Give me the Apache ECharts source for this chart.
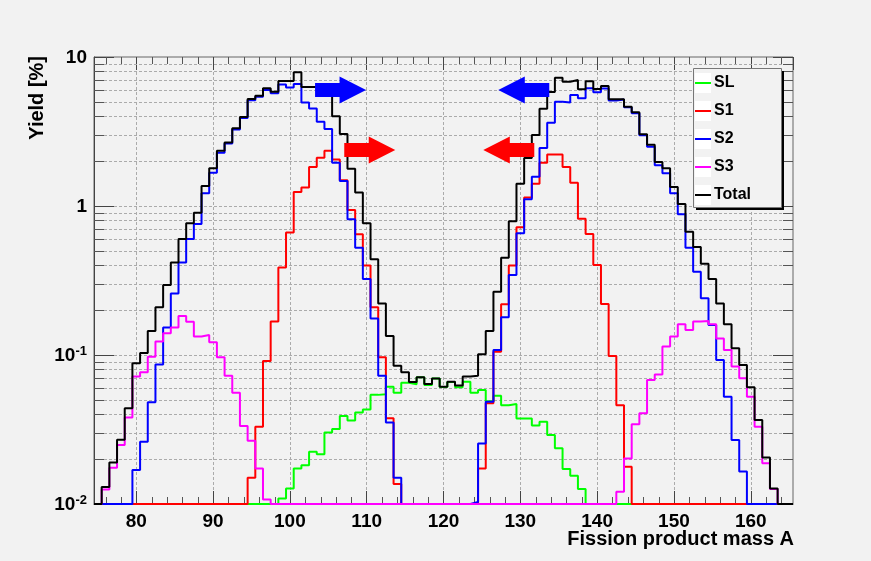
<!DOCTYPE html>
<html>
<head>
<meta charset="utf-8">
<title>Fission product yields</title>
<script src="https://cdn.jsdelivr.net/npm/echarts@6/dist/echarts.min.js"></script>
<style>
  html, body { margin: 0; padding: 0; background: #f2f2f2; }
  #chart { width: 871px; height: 561px; }
</style>
</head>
<body>
<div id="chart"></div>
<script>
// histogram bins: width 1, centred on mass number A = 75 ... 165
const massA = [];
for (let a = 75; a <= 165; a++) massA.push(a);

// yields in %, one value per bin (rows of ten: A=75, 85, 95, ... 165)
const yieldSL = [
  0, 0, 0, 0, 0, 0, 0, 0, 0, 0,
  0, 0, 0, 0, 0, 0, 0, 0, 0, 0,
  0, 0, 0, 0, 0.0109, 0.0127, 0.0173, 0.0182, 0.0224, 0.0216,
  0.0302, 0.0319, 0.039, 0.0363, 0.0411, 0.043, 0.054, 0.0546, 0.0613, 0.0558,
  0.0651, 0.0637, 0.0708, 0.063, 0.0696, 0.061, 0.066, 0.0607, 0.0662, 0.0558,
  0.0582, 0.049, 0.0533, 0.046, 0.0469, 0.0375, 0.0375, 0.0336, 0.0357, 0.029,
  0.0237, 0.0172, 0.0155, 0.0126, 0, 0, 0, 0, 0, 0,
  0, 0, 0, 0, 0, 0, 0, 0, 0, 0,
  0, 0, 0, 0, 0, 0, 0, 0, 0, 0,
  0
];
const yieldS1 = [
  0, 0, 0, 0, 0, 0, 0, 0, 0, 0,
  0, 0, 0, 0, 0, 0, 0, 0, 0, 0,
  0.015, 0.033, 0.091, 0.168, 0.386, 0.665, 1.24, 1.33, 1.83, 2.11,
  2.35, 2.05, 1.49, 0.94, 0.646, 0.398, 0.209, 0.0965, 0.0376, 0.0136,
  0, 0, 0, 0, 0, 0, 0, 0, 0, 0,
  0.0173, 0.0474, 0.105, 0.219, 0.398, 0.72, 1.14, 1.41, 1.95, 2.22,
  2.22, 1.83, 1.43, 0.82, 0.65, 0.402, 0.22, 0.0985, 0.046, 0.0178,
  0, 0, 0, 0, 0, 0, 0, 0, 0, 0,
  0, 0, 0, 0, 0, 0, 0, 0, 0, 0,
  0
];
const yieldS2 = [
  0, 0, 0, 0, 0, 0.0169, 0.0262, 0.0481, 0.0865, 0.153,
  0.259, 0.417, 0.60, 0.757, 1.22, 1.67, 2.28, 2.63, 3.26, 3.9,
  5.12, 5.4, 6.0, 5.7, 6.55, 6.23, 6.6, 4.95, 4.52, 3.68,
  3.29, 1.95, 1.47, 0.814, 0.525, 0.324, 0.176, 0.0727, 0.0353, 0.015,
  0, 0, 0, 0, 0, 0, 0, 0, 0, 0.0103,
  0.0255, 0.0486, 0.108, 0.179, 0.344, 0.656, 1.11, 1.57, 2.45, 3.62,
  5.01, 4.95, 5.56, 5.28, 6.16, 5.8, 6.15, 5.1, 5.18, 4.6,
  4.2, 2.98, 2.5, 1.88, 1.66, 1.22, 0.88, 0.525, 0.362, 0.24,
  0.159, 0.0925, 0.0525, 0.0269, 0.0165, 0, 0, 0, 0, 0,
  0
];
const yieldS3 = [
  0, 0.0125, 0.0175, 0.0249, 0.038, 0.0716, 0.0765, 0.0975, 0.123, 0.14,
  0.153, 0.183, 0.167, 0.133, 0.136, 0.122, 0.0965, 0.0727, 0.0558, 0.0334,
  0.0266, 0.0173, 0.0107, 0, 0, 0, 0, 0, 0, 0,
  0, 0, 0, 0, 0, 0, 0, 0, 0, 0,
  0, 0, 0, 0, 0, 0, 0, 0, 0, 0,
  0, 0, 0, 0, 0, 0, 0, 0, 0, 0,
  0, 0, 0, 0, 0, 0, 0, 0, 0.0121, 0.0202,
  0.0343, 0.0406, 0.068, 0.0741, 0.114, 0.133, 0.161, 0.147, 0.168, 0.169,
  0.161, 0.129, 0.108, 0.0836, 0.0697, 0.0525, 0.033, 0.0188, 0.0126, 0,
  0
];
const yieldTotal = [
  0, 0.013, 0.019, 0.027, 0.044, 0.088, 0.103, 0.145, 0.209, 0.295,
  0.417, 0.60, 0.765, 0.90, 1.36, 1.79, 2.35, 2.67, 3.32, 3.96,
  5.23, 5.5, 6.16, 5.85, 6.9, 6.9, 7.9, 6.3, 6.3, 5.9,
  5.7, 4.0, 3.04, 1.78, 1.23, 0.765, 0.44, 0.222, 0.134, 0.0848,
  0.0766, 0.066, 0.0708, 0.0638, 0.0696, 0.0612, 0.0662, 0.0623, 0.0716, 0.0725,
  0.101, 0.145, 0.266, 0.45, 0.79, 1.41, 2.1, 3.0, 4.5, 5.82,
  7.27, 6.83, 7.0, 6.08, 6.87, 6.1, 6.38, 5.2, 5.2, 4.64,
  4.25, 3.03, 2.58, 1.97, 1.79, 1.34, 1.03, 0.673, 0.53, 0.41,
  0.324, 0.222, 0.161, 0.111, 0.0857, 0.0607, 0.0366, 0.0205, 0.0127, 0,
  0
];

const seriesNames = ['SL', 'S1', 'S2', 'S3', 'Total'];

// minor tick positions (ROOT style frame)
const xTicksMinor = [76, 78, 82, 84, 86, 88, 92, 94, 96, 98, 102, 104, 106, 108,
  112, 114, 116, 118, 122, 124, 126, 128, 132, 134, 136, 138, 142, 144, 146, 148,
  152, 154, 156, 158, 162, 164];
const yTicksMinor = [0.02, 0.03, 0.04, 0.05, 0.06, 0.07, 0.08, 0.09,
  0.2, 0.3, 0.4, 0.5, 0.6, 0.7, 0.8, 0.9,
  2, 3, 4, 5, 6, 7, 8, 9];

// arrow annotations: centre (A, yield), direction, colour
const arrows = [
  { A: 106.6, y: 6.0, dir: 1, color: '#0000ff' },
  { A: 110.4, y: 2.38, dir: 1, color: '#ff0000' },
  { A: 130.45, y: 6.0, dir: -1, color: '#0000ff' },
  { A: 128.5, y: 2.38, dir: -1, color: '#ff0000' },
];

const FONT = '"Liberation Sans", Arial, Helvetica, sans-serif';
const xMin = 74.5, xMax = 165.5, yMin = 0.01, yMax = 10;
const ARROW_R = 'path://M0,6.5L24,6.5L24,0L50,13.5L24,27L24,20.5L0,20.5Z';
const ARROW_L = 'path://M50,6.5L26,6.5L26,0L0,13.5L26,27L26,20.5L50,20.5Z';

// legend box layout (ROOT TLegend look: box, hard shadow, white marker cells)
const LEG = { left: 693, top: 68, width: 88, height: 139, padTop: 7, font: 16, gap: 12 };

// bin left edges + closing right edge, drawn with step 'end'
const toSteps = (values) => {
  const pts = values.map((v, i) => [massA[i] - 0.5, Math.max(v, yMin)]);
  pts.push([massA[massA.length - 1] + 0.5, Math.max(values[values.length - 1], yMin)]);
  return pts;
};

const histo = (name, values, color) => ({
  name,
  type: 'line',
  step: 'end',
  data: toSteps(values),
  symbol: 'none',
  z: 2,
  color,
  lineStyle: { color, width: 2 },
  emphasis: { disabled: true },
});

const gridLine = { stroke: '#ababab', lineWidth: 1, lineDash: [3, 2] };
const tickLine = { stroke: '#555', lineWidth: 1 };

const chart = echarts.init(document.getElementById('chart'), null, { renderer: 'canvas' });

const totalSeries = histo('Total', yieldTotal, '#000000');
totalSeries.markPoint = {
  silent: true,
  label: { show: false },
  data: arrows.map((a) => ({
    coord: [a.A, a.y],
    symbol: a.dir > 0 ? ARROW_R : ARROW_L,
    symbolSize: [51, 27],
    itemStyle: { color: a.color },
  })),
};

const legendCells = seriesNames.map((n, i) => ({
  type: 'rect', silent: true, z: 3,
  shape: { x: LEG.left + 2, y: LEG.top + LEG.padTop + i * (LEG.font + LEG.gap) + LEG.font / 2 - 10, width: 16, height: 20 },
  style: { fill: '#ffffff' },
}));

const option = {
  animation: false,
  backgroundColor: '#f2f2f2',
  textStyle: { fontFamily: FONT },
  grid: {
    left: 94, right: 78, top: 57, bottom: 57,
    show: true, backgroundColor: '#f2f2f2', borderColor: '#666', borderWidth: 1,
    containLabel: false, outerBoundsMode: 'none',
  },
  legend: {
    data: seriesNames,
    orient: 'vertical',
    left: LEG.left, top: LEG.top,
    padding: [LEG.padTop, 20, 4, 2],
    itemGap: LEG.gap, itemWidth: 16, itemHeight: 2,
    icon: 'rect',
    z: 5,
    backgroundColor: 'transparent',
    borderWidth: 0,
    selectedMode: false,
    textStyle: { fontSize: LEG.font, fontWeight: 'bold', color: '#000', fontFamily: FONT, padding: [0, 0, 0, -2] },
  },
  xAxis: [
    {
      type: 'value', min: xMin, max: xMax, minInterval: 10, maxInterval: 10,
      axisLine: { onZero: false, lineStyle: { color: '#444', width: 1 } },
      axisTick: { inside: true, length: 13, lineStyle: { color: '#444' } },
      axisLabel: {
        margin: 8, color: '#000', fontSize: 19, fontWeight: 'bold', fontFamily: FONT,
        showMinLabel: false, showMaxLabel: false,
        formatter: (v) => (Math.abs(v % 10) < 1e-6 ? String(Math.round(v)) : ''),
      },
      splitLine: { show: true, lineStyle: { color: '#ababab', type: [3, 2] } },
    },
    {
      type: 'value', position: 'top', min: xMin, max: xMax, minInterval: 10, maxInterval: 10,
      axisLine: { show: false },
      axisTick: { inside: true, length: 13, lineStyle: { color: '#444' } },
      axisLabel: { show: false },
      splitLine: { show: false },
    },
  ],
  yAxis: [
    {
      type: 'log', logBase: 10, min: yMin, max: yMax,
      axisLine: { show: true, lineStyle: { color: '#444', width: 1 } },
      axisTick: { show: true, inside: true, length: 20, lineStyle: { color: '#444' } },
      axisLabel: {
        margin: 7, color: '#000',
        formatter: (v) => {
          const p = Math.round(Math.log10(v));
          if (p === 0) return '{b|1}';
          if (p === 1) return '{b|10}';
          return '{b|10}{s|' + p + '}';
        },
        rich: {
          b: { fontSize: 19, fontWeight: 'bold', fontFamily: FONT, color: '#000', verticalAlign: 'bottom', lineHeight: 20 },
          s: { fontSize: 13, fontWeight: 'bold', fontFamily: FONT, color: '#000', verticalAlign: 'top', lineHeight: 13, padding: [0, 0, 9, 0] },
        },
      },
      splitLine: { show: true, lineStyle: { color: '#ababab', type: [3, 2] } },
    },
    {
      type: 'log', logBase: 10, min: yMin, max: yMax, position: 'right',
      axisLine: { show: false },
      axisTick: { show: true, inside: true, length: 20, lineStyle: { color: '#444' } },
      axisLabel: { show: false },
      splitLine: { show: false },
    },
  ],
  graphic: [
    {
      type: 'rect', silent: true, z: 3,
      shape: { x: LEG.left + 3, y: LEG.top + 3, width: LEG.width, height: LEG.height },
      style: { fill: '#000000' },
    },
    {
      type: 'rect', silent: true, z: 3,
      shape: { x: LEG.left + 0.5, y: LEG.top + 0.5, width: LEG.width, height: LEG.height },
      style: { fill: '#f2f2f2', stroke: '#777', lineWidth: 1 },
    },
    ...legendCells,
    {
      type: 'text', x: 794, y: 529, silent: true,
      style: { text: 'Fission product mass A', font: 'bold 20px ' + FONT, fill: '#000', align: 'right', verticalAlign: 'top' },
    },
    {
      type: 'text', x: 27, y: 56, rotation: Math.PI / 2, silent: true,
      style: { text: 'Yield [%]', font: 'bold 20px ' + FONT, fill: '#000', align: 'right', verticalAlign: 'top' },
    },
  ],
  series: [
    {
      type: 'custom', name: 'yMinor', silent: true, z: 1, clip: false,
      data: yTicksMinor.map((v) => [xMin, v]),
      encode: { x: 0, y: 1 },
      renderItem: (params, api) => {
        const l = api.coord([xMin, api.value(1)]);
        const r = api.coord([xMax, api.value(1)]);
        const y = Math.round(l[1]) + 0.5;
        return {
          type: 'group',
          children: [
            { type: 'line', shape: { x1: l[0], y1: y, x2: r[0], y2: y }, style: gridLine },
            { type: 'line', shape: { x1: l[0], y1: y, x2: l[0] + 10, y2: y }, style: tickLine },
            { type: 'line', shape: { x1: r[0] - 10, y1: y, x2: r[0], y2: y }, style: tickLine },
          ],
        };
      },
    },
    {
      type: 'custom', name: 'xMinor', silent: true, z: 1, clip: false,
      data: xTicksMinor.map((a) => [a, yMin]),
      encode: { x: 0, y: 1 },
      renderItem: (params, api) => {
        const b = api.coord([api.value(0), yMin]);
        const t = api.coord([api.value(0), yMax]);
        const x = Math.round(b[0]) + 0.5;
        return {
          type: 'group',
          children: [
            { type: 'line', shape: { x1: x, y1: b[1], x2: x, y2: b[1] - 7 }, style: tickLine },
            { type: 'line', shape: { x1: x, y1: t[1], x2: x, y2: t[1] + 7 }, style: tickLine },
          ],
        };
      },
    },
    histo('SL', yieldSL, '#00ff00'),
    histo('S1', yieldS1, '#ff0000'),
    histo('S2', yieldS2, '#0000ff'),
    histo('S3', yieldS3, '#ff00ff'),
    totalSeries,
  ],
};

chart.setOption(option);
window.addEventListener('resize', () => chart.resize());
</script>
</body>
</html>
